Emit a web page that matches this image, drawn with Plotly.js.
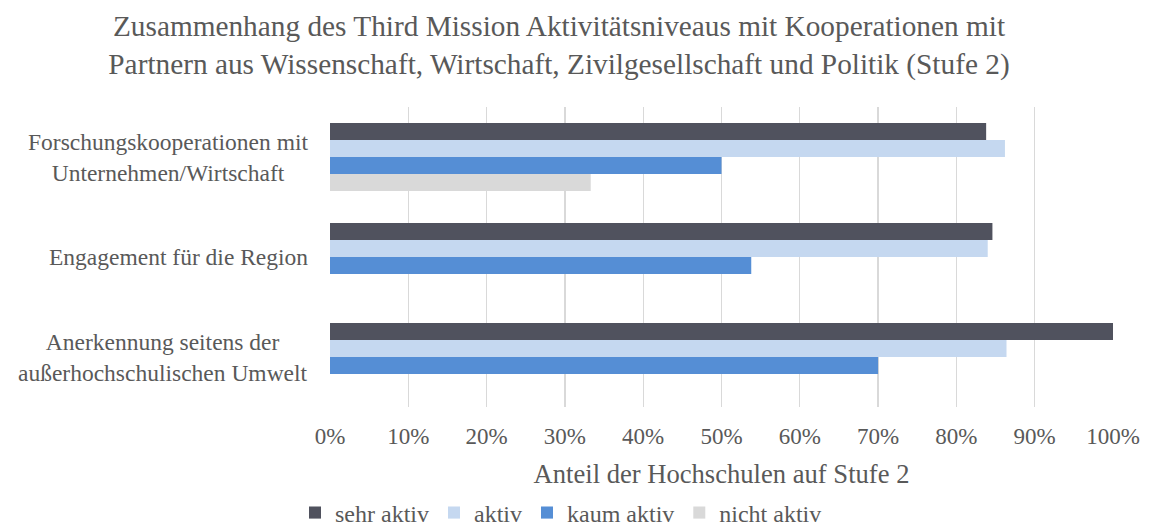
<!DOCTYPE html>
<html>
<head>
<meta charset="utf-8">
<script src="https://cdn.plot.ly/plotly-3.0.1.min.js"></script>
<style>html,body{margin:0;padding:0;background:#fff;}#chart{width:1149px;height:530px;}</style>
</head>
<body>
<div id="chart"></div>
<script>
const categories = [
  "Forschungskooperationen mit<br>Unternehmen/Wirtschaft",
  "Engagement für die Region",
  "Anerkennung seitens der<br>außerhochschulischen Umwelt"
];
const seriesNames = ["sehr aktiv", "aktiv", "kaum aktiv", "nicht aktiv"];
const sehrAktiv = [0.838, 0.846, 1.000];
const aktiv = [0.862, 0.840, 0.864];
const kaumAktiv = [0.500, 0.538, 0.700];
const nichtAktiv = [0.333, 0, 0];
const seriesColors = ["#50525E", "#C5D8F0", "#558ED5", "#D9D9D9"];
const xTickVals = [0, 0.1, 0.2, 0.3, 0.4, 0.5, 0.6, 0.7, 0.8, 0.9, 1.0];
const xTickText = ["0%", "10%", "20%", "30%", "40%", "50%", "60%", "70%", "80%", "90%", "100%"];

const FONT = '"Liberation Serif", "Times New Roman", serif';
const GREY = '#595959';

const values = [sehrAktiv, aktiv, kaumAktiv, nichtAktiv];
const ids = categories.map((c, i) => 'c' + i);
const traces = values.map((vals, i) => ({
  type: 'bar',
  orientation: 'h',
  name: seriesNames[i],
  x: vals,
  y: ids,
  marker: {color: seriesColors[i], line: {width: 0}},
  hoverinfo: 'x+name'
}));

const annotations = categories.map((c, i) => ({
  text: c,
  xref: 'paper', yref: 'y',
  x: -20 / 783, y: ids[i],
  xanchor: 'right', yanchor: 'middle',
  align: 'center',
  showarrow: false,
  font: {family: FONT, size: 23.5, color: GREY}
}));

const layout = {
  width: 1149, height: 530,
  paper_bgcolor: '#ffffff', plot_bgcolor: '#ffffff',
  margin: {l: 330, r: 36, t: 107, b: 123, autoexpand: false},
  font: {family: FONT, color: GREY},
  title: {
    text: 'Zusammenhang des Third Mission Aktivitätsniveaus mit Kooperationen mit<br>Partnern aus Wissenschaft, Wirtschaft, Zivilgesellschaft und Politik (Stufe 2)',
    font: {family: FONT, size: 29.3, color: GREY},
    x: 559 / 1149, xanchor: 'center', xref: 'container',
    y: 1 - 36 / 530, yanchor: 'top', yref: 'container'
  },
  barmode: 'group',
  bargap: 0.32,
  bargroupgap: 0,
  xaxis: {
    range: [0, 1.0],
    tickvals: xTickVals,
    ticktext: xTickText,
    showgrid: true, gridcolor: '#D9D9D9', gridwidth: 1.3,
    zeroline: false, showline: false,
    ticks: '', ticklabelstandoff: 13,
    tickfont: {family: FONT, size: 23, color: GREY},
    title: {text: 'Anteil der Hochschulen auf Stufe 2', font: {family: FONT, size: 26.6, color: GREY}, standoff: 15.5},
    fixedrange: true
  },
  yaxis: {
    type: 'category',
    categoryorder: 'array', categoryarray: ids,
    autorange: 'reversed',
    showticklabels: false, showgrid: false, zeroline: false, showline: false, ticks: '',
    fixedrange: true
  },
  showlegend: true,
  legend: {
    orientation: 'h',
    x: (561 - 330) / 783, xanchor: 'center',
    y: -(513 - 407) / 300, yanchor: 'middle',
    font: {family: FONT, size: 24, color: GREY},
    bgcolor: 'rgba(0,0,0,0)',
    itemwidth: 30, tracegroupgap: 0
  },
  annotations: annotations
};

Plotly.newPlot('chart', traces, layout, {displayModeBar: false, staticPlot: true});
</script>
</body>
</html>
